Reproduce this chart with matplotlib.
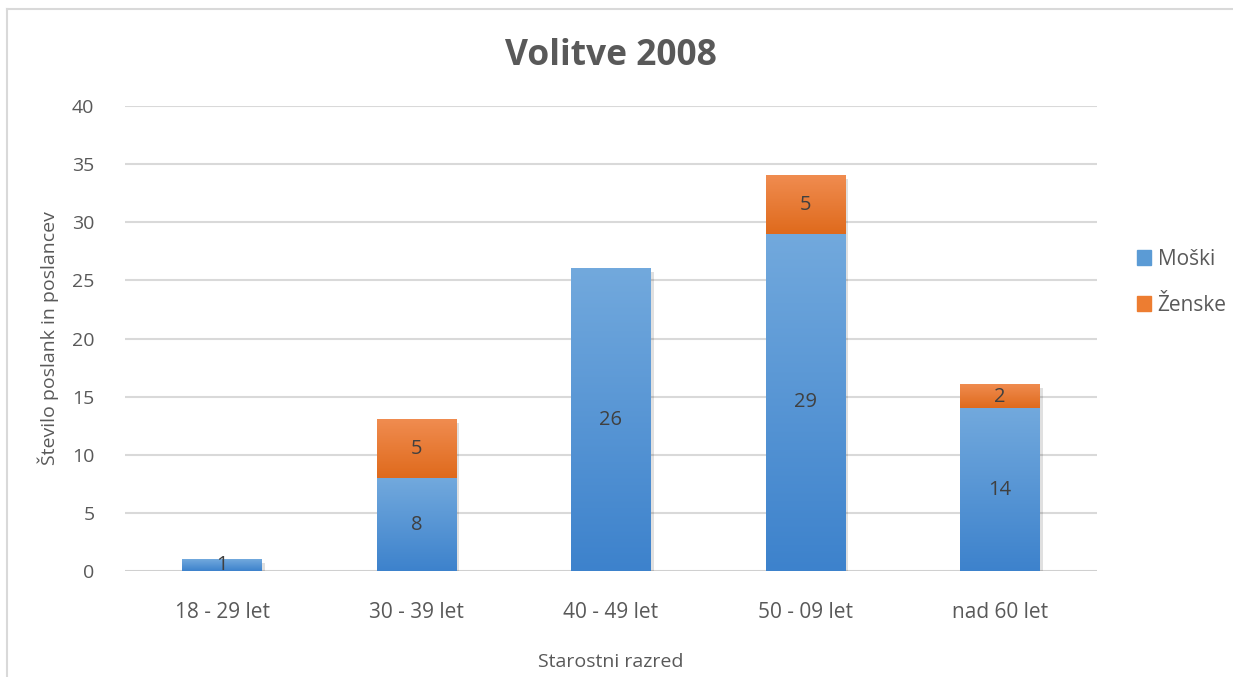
import numpy as np
import matplotlib.pyplot as plt
from matplotlib.patches import Rectangle
from matplotlib.lines import Line2D
from matplotlib.colors import LinearSegmentedColormap

categories = ["18 - 29 let", "30 - 39 let", "40 - 49 let", "50 - 09 let", "nad 60 let"]
moski = [1, 8, 26, 29, 14]
zenske = [0, 5, 0, 5, 2]

plt.rcParams['font.family'] = ['Open Sans', 'DejaVu Sans']

fig = plt.figure(figsize=(12.33, 6.77), dpi=100)
ax = fig.add_axes([125 / 1233, 1 - 571 / 677, 972 / 1233, 465 / 677])

blue_cmap = LinearSegmentedColormap.from_list("b", ["#3d82cc", "#72a9dd"])
orange_cmap = LinearSegmentedColormap.from_list("o", ["#df6a1c", "#f08c50"])
grad = np.linspace(0, 1, 256).reshape(-1, 1)

width = 0.41
x = np.arange(len(categories))

for i in range(len(categories)):
    segs = [(0, moski[i], blue_cmap), (moski[i], zenske[i], orange_cmap)]
    for bottom, h, cmap in segs:
        if h == 0:
            continue
        # shadow
        ax.add_patch(Rectangle((x[i] - width / 2 + 0.015, bottom - 0.3), width, h,
                               color="#000000", alpha=0.12, lw=0, zorder=2))
        ax.imshow(grad, cmap=cmap, origin="lower", aspect="auto", zorder=3,
                  extent=(x[i] - width / 2, x[i] + width / 2, bottom, bottom + h))
        ax.text(x[i], bottom + h / 2, str(h), ha="center", va="center",
                fontsize=14.5, color="#404040", zorder=5)

ax.set_xlim(-0.5, len(categories) - 0.5)
ax.set_ylim(0, 40)
ax.set_yticks(range(0, 41, 5))
ax.set_xticks(x)
ax.set_xticklabels(categories)
ax.grid(axis="y", color="#d9d9d9", lw=1.5, zorder=0)
ax.set_axisbelow(True)
ax.axhline(0, color="#d0d0d0", lw=2, zorder=1)
for s in ax.spines.values():
    s.set_visible(False)
ax.tick_params(length=0, labelsize=14, labelcolor="#595959")
ax.tick_params(axis="x", labelsize=15, pad=22)
ax.tick_params(axis="y", pad=22)

ax.set_ylabel("Število poslank in poslancev", fontsize=14, color="#595959", labelpad=9)
ax.set_xlabel("Starostni razred", fontsize=14, color="#595959", labelpad=22)

fig.text(0.5 * (125 + 1097) / 1233, 1 - 56 / 677, "Volitve 2008", ha="center", va="center",
         fontsize=25.5, fontweight="bold", color="#595959")

handles = [Rectangle((0, 0), 1, 1, color="#5b9bd5"), Rectangle((0, 0), 1, 1, color="#ed7d31")]
fig.legend(handles, ["Moški", "Ženske"], loc="center left", bbox_to_anchor=(1118 / 1233, 1 - 282 / 677),
           frameon=False, fontsize=15, labelcolor="#595959", handlelength=0.7, handleheight=0.7,
           handletextpad=0.3, labelspacing=1.2)

# chart border: only left and top edges fall inside the picture
fig.lines.append(Line2D([7 / 1233, 7 / 1233], [0, 1 - 9 / 677], transform=fig.transFigure,
                        color="#d9d9d9", lw=1.5))
fig.lines.append(Line2D([7 / 1233, 1], [1 - 9 / 677, 1 - 9 / 677], transform=fig.transFigure,
                        color="#d9d9d9", lw=1.5))

fig.savefig("out.png", dpi=100)
